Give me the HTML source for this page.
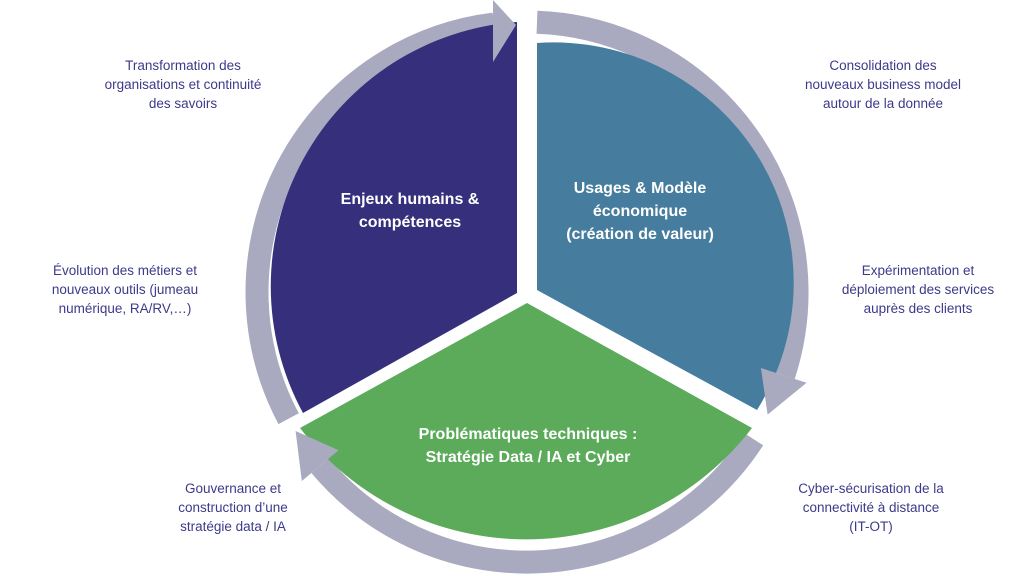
<!DOCTYPE html>
<html><head><meta charset="utf-8"><style>
html,body{margin:0;padding:0;background:#fff;}
svg{display:block;}
.l{font-family:"Liberation Sans",sans-serif;font-size:13.5px;fill:#3d3a8a;text-anchor:middle;}
.b{font-family:"Liberation Sans",sans-serif;font-size:16px;font-weight:bold;fill:#fff;text-anchor:middle;}
</style></head><body>
<svg width="1024" height="576" viewBox="0 0 1024 576" xmlns="http://www.w3.org/2000/svg">
<g fill="none" stroke="#a9aabf" stroke-width="23">
<path d="M288.6,418.7 A270 270 0 0 1 494,24"/>
<path d="M537,22.2 A270 270 0 0 1 783.8,375.4"/>
<path d="M753.5,439.1 A270 270 0 0 1 320.2,465.6"/>
</g>
<path d="M517,293 L517,22 A265 265 0 0 0 303,413 Z" fill="#352f7c"/>
<path d="M537,290 L537,43 A240 240 0 0 1 757,410 Z" fill="#467d9e"/>
<path d="M527,303 L300,428 A285 285 0 0 0 752,428 Z" fill="#5bab5b"/>
<g fill="#a9aabf">
<polygon points="493,0 493,62 516,25"/>
<polygon points="760.9,368 806.6,382.8 767.6,414.6"/>
<polygon points="338.6,450.2 301.8,481 295.6,431"/>
</g>
<g class="l">
<text x="183" y="70">Transformation des</text>
<text x="183" y="89">organisations et continuité</text>
<text x="183" y="108">des savoirs</text>
<text x="125" y="275">Évolution des métiers et</text>
<text x="125" y="294">nouveaux outils (jumeau</text>
<text x="125" y="313">numérique, RA/RV,…)</text>
<text x="233" y="493">Gouvernance et</text>
<text x="233" y="512">construction d’une</text>
<text x="233" y="531">stratégie data / IA</text>
<text x="883" y="70">Consolidation des</text>
<text x="883" y="89">nouveaux business model</text>
<text x="883" y="108">autour de la donnée</text>
<text x="918" y="275">Expérimentation et</text>
<text x="918" y="294">déploiement des services</text>
<text x="918" y="313">auprès des clients</text>
<text x="871" y="493">Cyber-sécurisation de la</text>
<text x="871" y="512">connectivité à distance</text>
<text x="871" y="531">(IT-OT)</text>
</g>
<g class="b">
<text x="410" y="204">Enjeux humains &amp;</text>
<text x="410" y="227">compétences</text>
<text x="640" y="193">Usages &amp; Modèle</text>
<text x="640" y="216">économique</text>
<text x="640" y="239">(création de valeur)</text>
<text x="528" y="439">Problématiques techniques :</text>
<text x="528" y="462">Stratégie Data / IA et Cyber</text>
</g>
</svg>
</body></html>
